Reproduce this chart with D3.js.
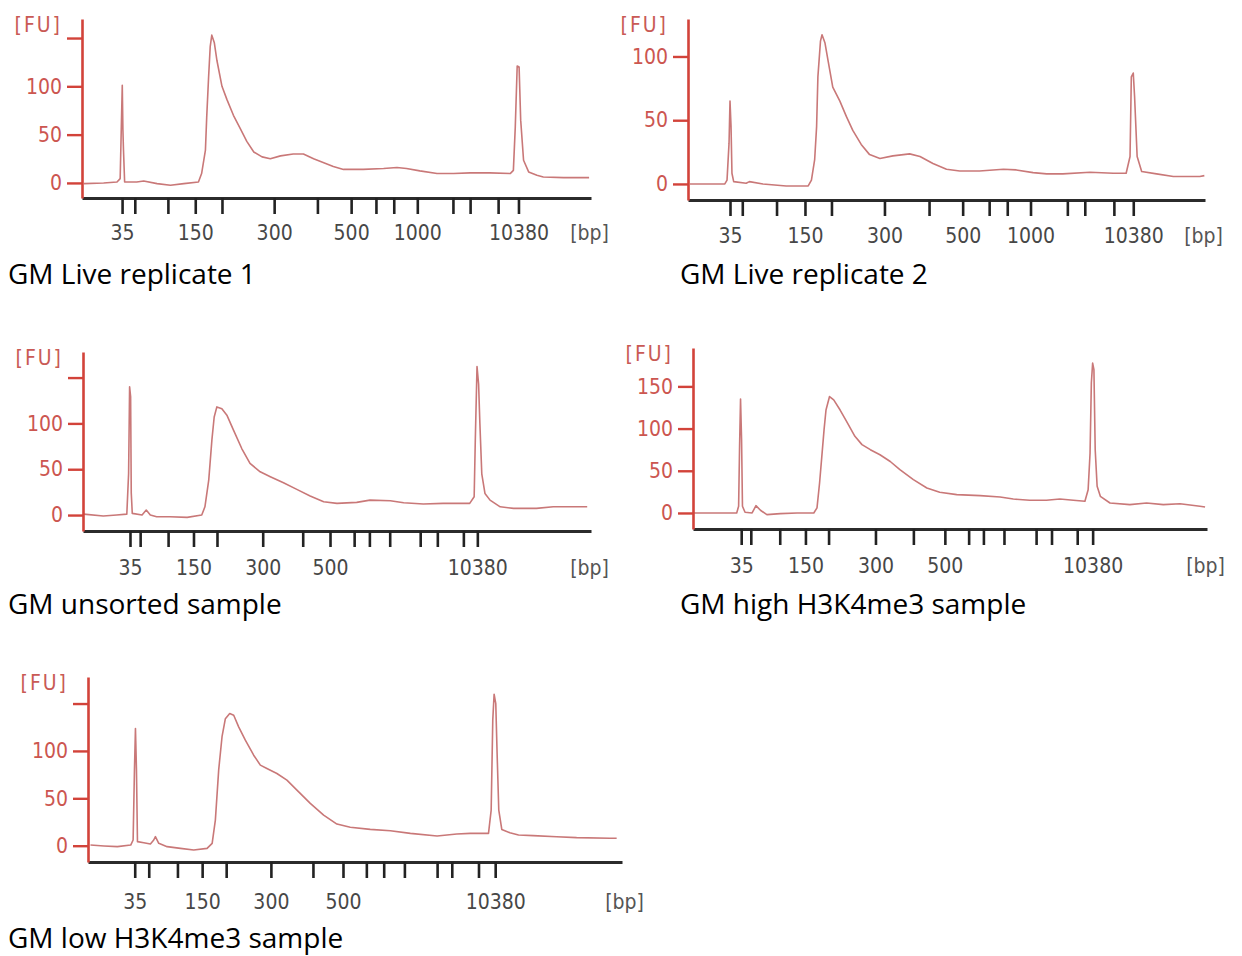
<!DOCTYPE html>
<html>
<head>
<meta charset="utf-8">
<script src="https://cdn.jsdelivr.net/npm/d3@7"></script>
<style>
  body { margin: 0; background: #fff; }
  svg { display: block; }
</style>
</head>
<body>
<svg id="chart" width="1242" height="956"></svg>
<script>
// High Sensitivity DNA ladder sizes [bp]
const ladderBp = [35, 50, 100, 150, 200, 300, 400, 500, 600, 700, 1000, 2000, 3000, 7000, 10380];
const labeledBpLong = [35, 150, 300, 500, 1000, 10380];
const labeledBpShort = [35, 150, 300, 500, 10380];

// migration time [s] of every ladder peak, one array per chip run
const ladderTimes1 = [46.3, 48.3, 53.5, 57.8, 62.0, 70.2, 77.0, 82.3, 86.2, 89.0, 92.7, 98.3, 101.0, 105.4, 108.6];
const ladderTimes2 = [46.5, 48.4, 53.7, 58.1, 62.2, 70.4, 77.3, 82.5, 86.6, 89.4, 93.0, 98.7, 101.4, 105.9, 108.9];
const ladderTimes3 = [47.4, 49.0, 53.4, 57.4, 61.1, 68.3, 74.6, 78.9, 82.7, 85.1, 88.3, 93.1, 95.8, 99.9, 102.1];
const ladderTimes4 = [47.5, 49.0, 53.5, 57.5, 61.1, 68.4, 74.3, 79.2, 82.9, 85.2, 88.4, 93.4, 95.8, 99.8, 102.2];
const ladderTimes5 = [47.0, 49.1, 53.4, 57.1, 60.7, 67.4, 73.7, 78.2, 81.7, 84.3, 87.4, 92.3, 94.5, 98.5, 101.0];

// electropherogram traces: [time s, FU]
const trace1 = [[40.3,-0.7],[43.4,0],[45.5,1],[46.0,4.5],[46.17,55],[46.33,101],[46.43,55],[46.52,34],[46.7,1],[48.6,1],[49.7,2],[51.8,-0.7],[53.9,-2.4],[56.0,-0.7],[58.3,1],[58.8,9.7],[59.4,34],[59.6,68],[59.9,110],[60.15,141],[60.4,153],[60.8,145],[61.2,127],[62.0,100],[62.8,86],[63.8,70],[64.9,56],[65.9,43],[67.0,32],[68.3,27],[69.6,25],[71.2,28],[73.2,30],[74.8,30],[76.4,25],[78.0,21],[79.5,17],[81.1,14],[84.2,14],[87.4,15],[89.5,16],[91.0,15],[93.1,12.5],[95.8,9.7],[98.4,9.7],[101.0,10.4],[104.1,10.4],[107.3,9.7],[107.8,13],[108.1,58],[108.4,121],[108.7,120],[108.95,65],[109.4,23.5],[110.2,11.4],[111.5,8],[112.5,6.2],[115.7,5.5],[119.7,5.5]];
const trace2 = [[40.3,0],[45.7,0],[46.04,3],[46.35,32],[46.5,65],[46.66,45],[46.8,8.4],[47.07,1.8],[49.0,0.5],[49.5,1.8],[51.6,0],[55.2,-1.6],[58.6,-1.6],[59.1,3],[59.6,19],[59.9,45],[60.1,84],[60.5,112],[60.74,117],[61.2,110.5],[61.7,96],[62.4,76],[63.5,65],[64.5,53],[65.5,42],[66.8,31],[68.1,23],[69.7,20],[71.7,22],[74.3,23.6],[75.9,21.5],[77.9,16],[80.0,11.5],[82.05,10.2],[85.1,10.2],[88.8,11.5],[90.8,11],[93.4,8.9],[95.5,7.9],[98.0,7.9],[102.2,9.2],[105.8,8.4],[107.8,8.4],[108.4,21.5],[108.6,84],[108.9,87],[109.1,69],[109.5,21.5],[110.2,9.7],[112.5,7.9],[115.1,5.8],[119.2,5.8],[119.9,6.5]];
const trace3 = [[40.1,1],[43.2,-1],[45.3,0],[46.9,1],[47.18,45],[47.34,140],[47.5,129],[47.6,24],[47.76,1.8],[49.3,0],[49.96,5.4],[50.6,0],[51.6,-1.8],[53.7,-1.8],[56.4,-2.5],[58.7,0],[59.2,9],[59.8,38],[60.3,82],[60.66,107],[61.08,118],[61.87,116],[62.66,109],[63.7,92.6],[65.0,72.6],[66.3,56.3],[67.9,47.2],[69.5,41.8],[71.57,35.2],[73.67,28],[75.77,20.7],[77.9,14.5],[80.0,12.7],[83.1,13.8],[85.2,16.3],[88.4,15.6],[90.5,13.4],[93.6,12],[96.7,12.7],[100.9,12.7],[101.6,20],[101.78,82],[102.05,162],[102.3,143],[102.5,100],[102.8,45],[103.3,23.6],[104.1,16.3],[105.7,9],[107.8,7.3],[111.4,7.3],[114.06,9],[119.4,9]];
const trace4 = [[40.1,0],[46.8,0],[47.1,7.9],[47.25,79],[47.4,135],[47.56,87],[47.7,7.9],[48.1,0.8],[49.2,0],[49.8,8.7],[50.5,3.2],[51.5,-2],[53.6,-0.8],[56.2,0],[58.8,0],[59.3,6],[59.7,35.5],[60.05,67],[60.4,98.7],[60.7,122],[61.25,138],[61.9,134],[62.9,122],[63.9,108.6],[65.2,90.8],[66.3,81],[67.6,75],[69.1,69],[70.7,61],[72.2,51.3],[74.3,39.5],[76.4,29.6],[78.4,24.5],[81.05,21.7],[84.7,20.5],[87.8,19],[89.85,16.6],[92.4,15],[95.0,15],[97.1,16.6],[99.2,15],[101.0,13.8],[101.5,27.6],[101.8,71],[102.0,154],[102.2,177.6],[102.4,169.8],[102.6,75],[102.9,31.6],[103.4,19.7],[104.9,11.8],[108.0,9.9],[110.6,11.8],[113.2,9.9],[115.8,11],[118.9,7.9],[119.7,7]];
const trace5 = [[40.37,0.7],[42.4,-0.3],[44.4,-1],[46.4,0.7],[46.76,6],[46.96,80],[47.11,123.6],[47.26,80],[47.41,4.3],[48.36,3.2],[49.35,1.8],[49.85,6],[50.1,9.5],[50.6,2.5],[51.85,-1],[53.85,-2.8],[55.84,-4.5],[57.84,-2.8],[58.6,2.5],[59.08,27],[59.58,80],[60.08,115],[60.58,134],[61.23,139.5],[61.83,137.7],[62.57,125.4],[63.57,111.3],[64.82,95.5],[65.82,85],[66.8,81.5],[68.3,76.2],[69.8,69.2],[71.3,58.7],[73.3,44.6],[75.3,32.3],[77.29,22.8],[79.29,19.4],[82.28,17.2],[85.3,15.8],[88.3,13],[92.3,10.2],[95.25,12.3],[97.25,13],[100.0,13],[100.4,37.6],[100.64,132.5],[100.84,159.8],[101.09,150],[101.29,97.3],[101.54,37.6],[101.99,17.2],[103.2,13.7],[104.5,11.3],[106.7,10.6],[110.2,9.5],[113.2,8.5],[118.2,7.8],[119.2,7.8]];

// FU axis ticks and which of them carry a label
const fuTicks = [0, 50, 100, 150];
const fuLabeled1 = [0, 50, 100];
const fuLabeled2 = [0, 50, 100];
const fuLabeled3 = [0, 50, 100];
const fuLabeled4 = [0, 50, 100, 150];
const fuLabeled5 = [0, 50, 100];
const fuMax2 = 100; // second plot stops at 100

const captions = ["GM Live replicate 1", "GM Live replicate 2", "GM unsorted sample", "GM high H3K4me3 sample", "GM low H3K4me3 sample"];

const timeDomain = [40, 120];

// layout of each electropherogram on the page
const panels = [
    { x0: 82, x1: 591, top: 19, axisY: 198, fu: [-15.6, 169.7], times: ladderTimes1, trace: trace1, fuLab: fuLabeled1, bpLab: labeledBpLong, capX: 8, capY: 284, lblDy: 34 },
    { x0: 688, x1: 1205, top: 19, axisY: 200, fu: [-12.6, 129.4], times: ladderTimes2, trace: trace2, fuLab: fuLabeled2, bpLab: labeledBpLong, capX: 680, capY: 284, lblDy: 35, fuTop: fuMax2 },
    { x0: 83, x1: 591, top: 352, axisY: 531, fu: [-17.4, 177.9], times: ladderTimes3, trace: trace3, fuLab: fuLabeled3, bpLab: labeledBpShort, capX: 8, capY: 614, lblDy: 36 },
    { x0: 693, x1: 1207, top: 348, axisY: 529, fu: [-19, 195.5], times: ladderTimes4, trace: trace4, fuLab: fuLabeled4, bpLab: labeledBpShort, capX: 680, capY: 614, lblDy: 36 },
    { x0: 88, x1: 622, top: 677, axisY: 862, fu: [-17.2, 178], times: ladderTimes5, trace: trace5, fuLab: fuLabeled5, bpLab: labeledBpShort, capX: 8, capY: 948, lblDy: 39 }
];

const svg = d3.select("#chart");
const axisFont = "'DejaVu Sans Condensed', 'DejaVu Sans', sans-serif";

panels.forEach((p, k) => {
    const w = p.x1 - p.x0;
    const h = p.axisY - p.top;
    const g = svg.append("g").attr("transform", `translate(${p.x0},${p.top})`);

    const x = d3.scaleLinear().domain(timeDomain).range([0, w]);
    const y = d3.scaleLinear().domain(p.fu).range([h, 0]);

    // trace
    const line = d3.line()
        .x(d => x(d[0]))
        .y(d => y(d[1]));

    g.append("path")
        .datum(p.trace)
        .attr("fill", "none")
        .attr("stroke", "#c97878")
        .attr("stroke-width", 1.6)
        .attr("stroke-linejoin", "round")
        .attr("d", line);

    // bp axis (ladder peaks)
    const xAxis = d3.axisBottom(x)
        .tickValues(p.times)
        .tickSize(16)
        .tickSizeOuter(0)
        .tickFormat((d, i) => p.bpLab.includes(ladderBp[i]) ? ladderBp[i] : "");

    const gx = g.append("g")
        .attr("transform", `translate(0,${h})`)
        .call(xAxis);

    gx.select(".domain").attr("stroke", "#2b2b2b").attr("stroke-width", 3);
    gx.selectAll(".tick line").attr("stroke", "#222").attr("stroke-width", 2.6);
    gx.selectAll(".tick text")
        .attr("y", p.lblDy)
        .attr("dy", "0.36em")
        .attr("fill", "#474747")
        .style("font-family", axisFont)
        .style("font-size", "21px");

    gx.append("text")
        .attr("x", w + (k === 4 ? 22 : 18))
        .attr("y", p.lblDy)
        .attr("dy", "0.36em")
        .attr("text-anchor", "end")
        .attr("fill", "#555")
        .style("font-family", axisFont)
        .style("font-size", "21px")
        .text("[bp]");

    // FU axis
    const ticks = fuTicks.filter(v => v <= (p.fuTop || p.fu[1]));
    const yAxis = d3.axisLeft(y)
        .tickValues(ticks)
        .tickSize(15)
        .tickSizeOuter(0)
        .tickPadding(5)
        .tickFormat(d => p.fuLab.includes(d) ? d : "");

    const gy = g.append("g").call(yAxis);

    gy.select(".domain").attr("stroke", "#d2433a").attr("stroke-width", 2.6);
    gy.selectAll(".tick line").attr("stroke", "#d2433a").attr("stroke-width", 2.4);
    gy.selectAll(".tick text")
        .attr("fill", "#cc5650")
        .style("font-family", axisFont)
        .style("font-size", "21px");

    gy.append("text")
        .attr("x", -20)
        .attr("y", 5)
        .attr("dy", "0.36em")
        .attr("text-anchor", "end")
        .attr("fill", "#c95a55")
        .attr("letter-spacing", "2")
        .style("font-family", axisFont)
        .style("font-size", "21px")
        .text("[FU]");

    // sample name
    svg.append("text")
        .attr("x", p.capX)
        .attr("y", p.capY)
        .attr("fill", "#000")
        .style("font-family", "'Open Sans', 'Noto Sans', sans-serif")
        .style("font-size", "28px")
        .text(captions[k]);
});
</script>
</body>
</html>
